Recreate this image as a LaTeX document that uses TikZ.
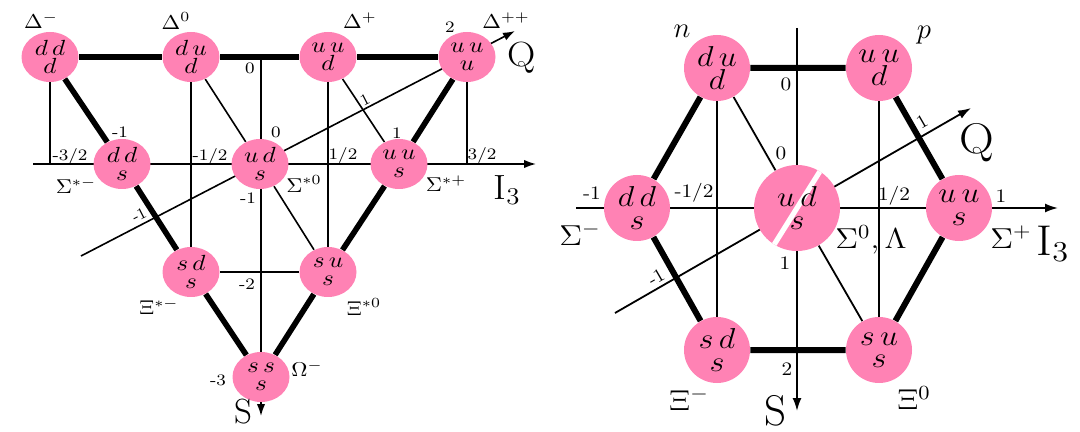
\documentclass[tikz,border=0pt]{standalone}
\usetikzlibrary{shapes.geometric,arrows.meta}
\pgfdeclarelayer{bg}
\pgfsetlayers{bg,main}
\definecolor{qpink}{RGB}{255,130,180}
\newcommand{\quarksl}[3]{\scalebox{1.15}[1]{\vbox{\baselineskip=8.8pt\lineskiplimit=-5pt\halign{\hfil##\hfil\cr$#1\,#2$\cr$#3$\cr}}}}
\newcommand{\quarksr}[3]{\scalebox{1.12}[1]{\vbox{\baselineskip=11.2pt\lineskiplimit=-5pt\halign{\hfil##\hfil\cr$#1\,#2$\cr$#3$\cr}}}}
\newcommand{\hwide}[1]{\scalebox{1.12}[1]{#1}}
\begin{document}
\begin{tikzpicture}[x=0.5pt,y=-0.5pt,
  lq/.style={ellipse,fill=qpink,minimum width=28.5pt,minimum height=25pt,inner sep=0pt,font=\fontsize{10.8}{8.8}\selectfont},
  rq/.style={circle,fill=qpink,minimum size=33pt,inner sep=0pt,font=\fontsize{13.5}{11.2}\selectfont},
  thinl/.style={line width=0.8pt},
  thickl/.style={line width=2.8pt},
  rthinl/.style={line width=0.9pt},
  rthickl/.style={line width=3pt},
  axisl/.style={line width=0.8pt,-{Latex[length=6pt,width=4.2pt]}},
  raxisl/.style={line width=0.9pt,-{Latex[length=6.5pt,width=4.5pt]}},
  ltick/.style={font=\fontsize{8}{9}\selectfont,inner sep=0pt},
  rtick/.style={font=\fontsize{9.5}{10}\selectfont,inner sep=0pt},
  lname/.style={font=\fontsize{10}{11}\selectfont,inner sep=0pt},
  rname/.style={font=\fontsize{14.5}{15}\selectfont,inner sep=0pt},
  lbig/.style={font=\fontsize{17.5}{18}\selectfont,inner sep=0pt},
  rbig/.style={font=\fontsize{21.5}{22}\selectfont,inner sep=0pt}
]
\useasboundingbox (0,0) rectangle (1080,432);

% ---------------- left: baryon decuplet ----------------
\node[lq] (dm)  at (50,57)   {\quarksl{d}{d}{d}};
\node[lq] (dz)  at (191,57)  {\quarksl{d}{u}{d}};
\node[lq] (dp)  at (328,57)  {\quarksl{u}{u}{d}};
\node[lq] (dpp) at (467,57)  {\quarksl{u}{u}{u}};
\node[lq] (sm)  at (122,164) {\quarksl{d}{d}{s}};
\node[lq] (sz)  at (260,164) {\quarksl{u}{d}{s}};
\node[lq] (sp)  at (399,164) {\quarksl{u}{u}{s}};
\node[lq] (xm)  at (191,272) {\quarksl{s}{d}{s}};
\node[lq] (xz)  at (328,272) {\quarksl{s}{u}{s}};
\node[lq] (om)  at (261,377) {\quarksl{s}{s}{s}};

\coordinate (ltop) at (261,55);
\coordinate (lbot) at (261,416);
\coordinate (li1) at (33,164);
\coordinate (li2) at (536,164);
\coordinate (lq1) at (81,256);
\coordinate (lq2) at (515,31);
\coordinate (lv1) at (50,164);
\coordinate (lv4) at (467,164);

\begin{pgfonlayer}{bg}
\draw[thickl] (dm) -- (dz) -- (dp) -- (dpp);
\draw[thickl] (dm) -- (sm) -- (xm) -- (om);
\draw[thickl] (dpp) -- (sp) -- (xz) -- (om);
\draw[thinl] (dm) -- (lv1);
\draw[thinl] (dpp) -- (lv4);
\draw[thinl] (dz) -- (xm);
\draw[thinl] (dp) -- (xz);
\draw[thinl] (dz) -- (sz) -- (xz);
\draw[thinl] (dp) -- (sp);
\draw[thinl] (xm) -- (xz);
\draw[axisl] (ltop) -- (lbot);
\draw[axisl] (li1) -- (li2);
\draw[axisl] (lq1) -- (lq2);
\end{pgfonlayer}

\node[ltick] (lt0a) at (250,68) {\hwide{0}};
\node[ltick] (lt32m) at (70,157) {\hwide{-3/2}};
\node[ltick] (lt12m) at (210,157) {\hwide{-1/2}};
\node[ltick] (lt12p) at (343,156) {\hwide{1/2}};
\node[ltick] (lt32p) at (482,156) {\hwide{3/2}};
\node[ltick] (ltm1) at (120,132) {\hwide{-1}};
\node[ltick] (lt0b) at (276,132) {\hwide{0}};
\node[ltick] (lt1) at (397,133) {\hwide{1}};
\node[ltick] (lt2) at (450,27) {\hwide{2}};
\node[ltick,rotate=27] (lq1l) at (365,100) {1};
\node[ltick,rotate=27] (lqm1l) at (139,215) {-1};
\node[ltick] (lsm1) at (248,198) {\hwide{-1}};
\node[ltick] (lsm2) at (247,284) {\hwide{-2}};
\node[ltick] (lsm3) at (218,380) {\hwide{-3}};

\node[lname] (nDm) at (41,21) {\hwide{$\Delta^-$}};
\node[lname] (nDz) at (176,21) {\hwide{$\Delta^0$}};
\node[lname] (nDp) at (360,21) {\hwide{$\Delta^+$}};
\node[lname] (nDpp) at (506,21) {\hwide{$\Delta^{++}$}};
\node[lname] (nSm) at (76,186) {\hwide{$\Sigma^{*-}$}};
\node[lname] (nSz) at (304,184) {\hwide{$\Sigma^{*0}$}};
\node[lname] (nSp) at (446,184) {\hwide{$\Sigma^{*+}$}};
\node[lname] (nXm) at (159,307) {\hwide{$\Xi^{*-}$}};
\node[lname] (nXz) at (364,307) {\hwide{$\Xi^{*0}$}};
\node[lname] (nOm) at (307,369) {\hwide{$\Omega^-$}};
\node[lbig] (lI) at (507,190) {\hwide{I$_3$}};
\node[lbig] (lQ) at (522,58) {\hwide{Q}};
\node[lbig] (lS) at (243,412) {S};

% ---------------- right: baryon octet ----------------
\node[rq] (n)  at (717,68)  {\quarksr{d}{u}{d}};
\node[rq] (p)  at (879,68)  {\quarksr{u}{u}{d}};
\node[rq] (rsm) at (637,208) {\quarksr{d}{d}{s}};
\node[rq,minimum size=43pt,
  path picture={\draw[white,line width=2.6pt] (path picture bounding box.center) ++(58:26pt) -- ++(238:52pt);}]
  (rsz) at (797,208) {\quarksr{u}{d}{s}};
\node[rq] (rsp) at (959,208) {\quarksr{u}{u}{s}};
\node[rq] (rxm) at (717,350) {\quarksr{s}{d}{s}};
\node[rq] (rxz) at (879,350) {\quarksr{s}{u}{s}};

\coordinate (rtop) at (797,28);
\coordinate (rbot) at (797,411);
\coordinate (ri1) at (576,208);
\coordinate (ri2) at (1058,208);
\coordinate (rq1) at (615,313);
\coordinate (rq2) at (971,108);

\begin{pgfonlayer}{bg}
\draw[rthickl] (n) -- (p) -- (rsp) -- (rxz) -- (rxm) -- (rsm) -- (n);
\draw[rthinl] (n) -- (rxm);
\draw[rthinl] (p) -- (rxz);
\draw[rthinl] (n) -- (rsz) -- (rxz);
\draw[raxisl] (rtop) -- (rbot);
\draw[raxisl] (ri1) -- (ri2);
\draw[raxisl] (rq1) -- (rq2);
\end{pgfonlayer}

\node[rtick] (rt0a) at (786,84) {\hwide{0}};
\node[rtick] (rt0b) at (781,153) {\hwide{0}};
\node[rtick] (rtm1) at (592,193) {\hwide{-1}};
\node[rtick] (rt12m) at (694,193) {\hwide{-1/2}};
\node[rtick] (rt12p) at (894,196) {\hwide{1/2}};
\node[rtick] (rt1) at (1001,196) {\hwide{1}};
\node[rtick,rotate=30] (rq1l) at (922,122) {1};
\node[rtick,rotate=30] (rqm1l) at (656,277) {-1};
\node[rtick] (rs1) at (785,263) {\hwide{1}};
\node[rtick] (rs2) at (787,369) {\hwide{2}};

\node[rname] (nn) at (682,31) {$n$};
\node[rname] (np) at (924,35) {$p$};
\node[rname] (nrSm) at (580,234) {\hwide{$\Sigma^-$}};
\node[rname] (nrSz) at (871,240) {\hwide{$\Sigma^0,\Lambda$}};
\node[rname] (nrSp) at (1011,237) {\hwide{$\Sigma^+$}};
\node[rname] (nrXm) at (689,399) {\hwide{$\Xi^-$}};
\node[rname] (nrXz) at (914,398) {\hwide{$\Xi^0$}};
\node[rbig] (rI) at (1053,244) {\hwide{I$_3$}};
\node[rbig] (rQ) at (977,143) {\hwide{Q}};
\node[rbig] (rS) at (775,411) {S};
\end{tikzpicture}
\end{document}
